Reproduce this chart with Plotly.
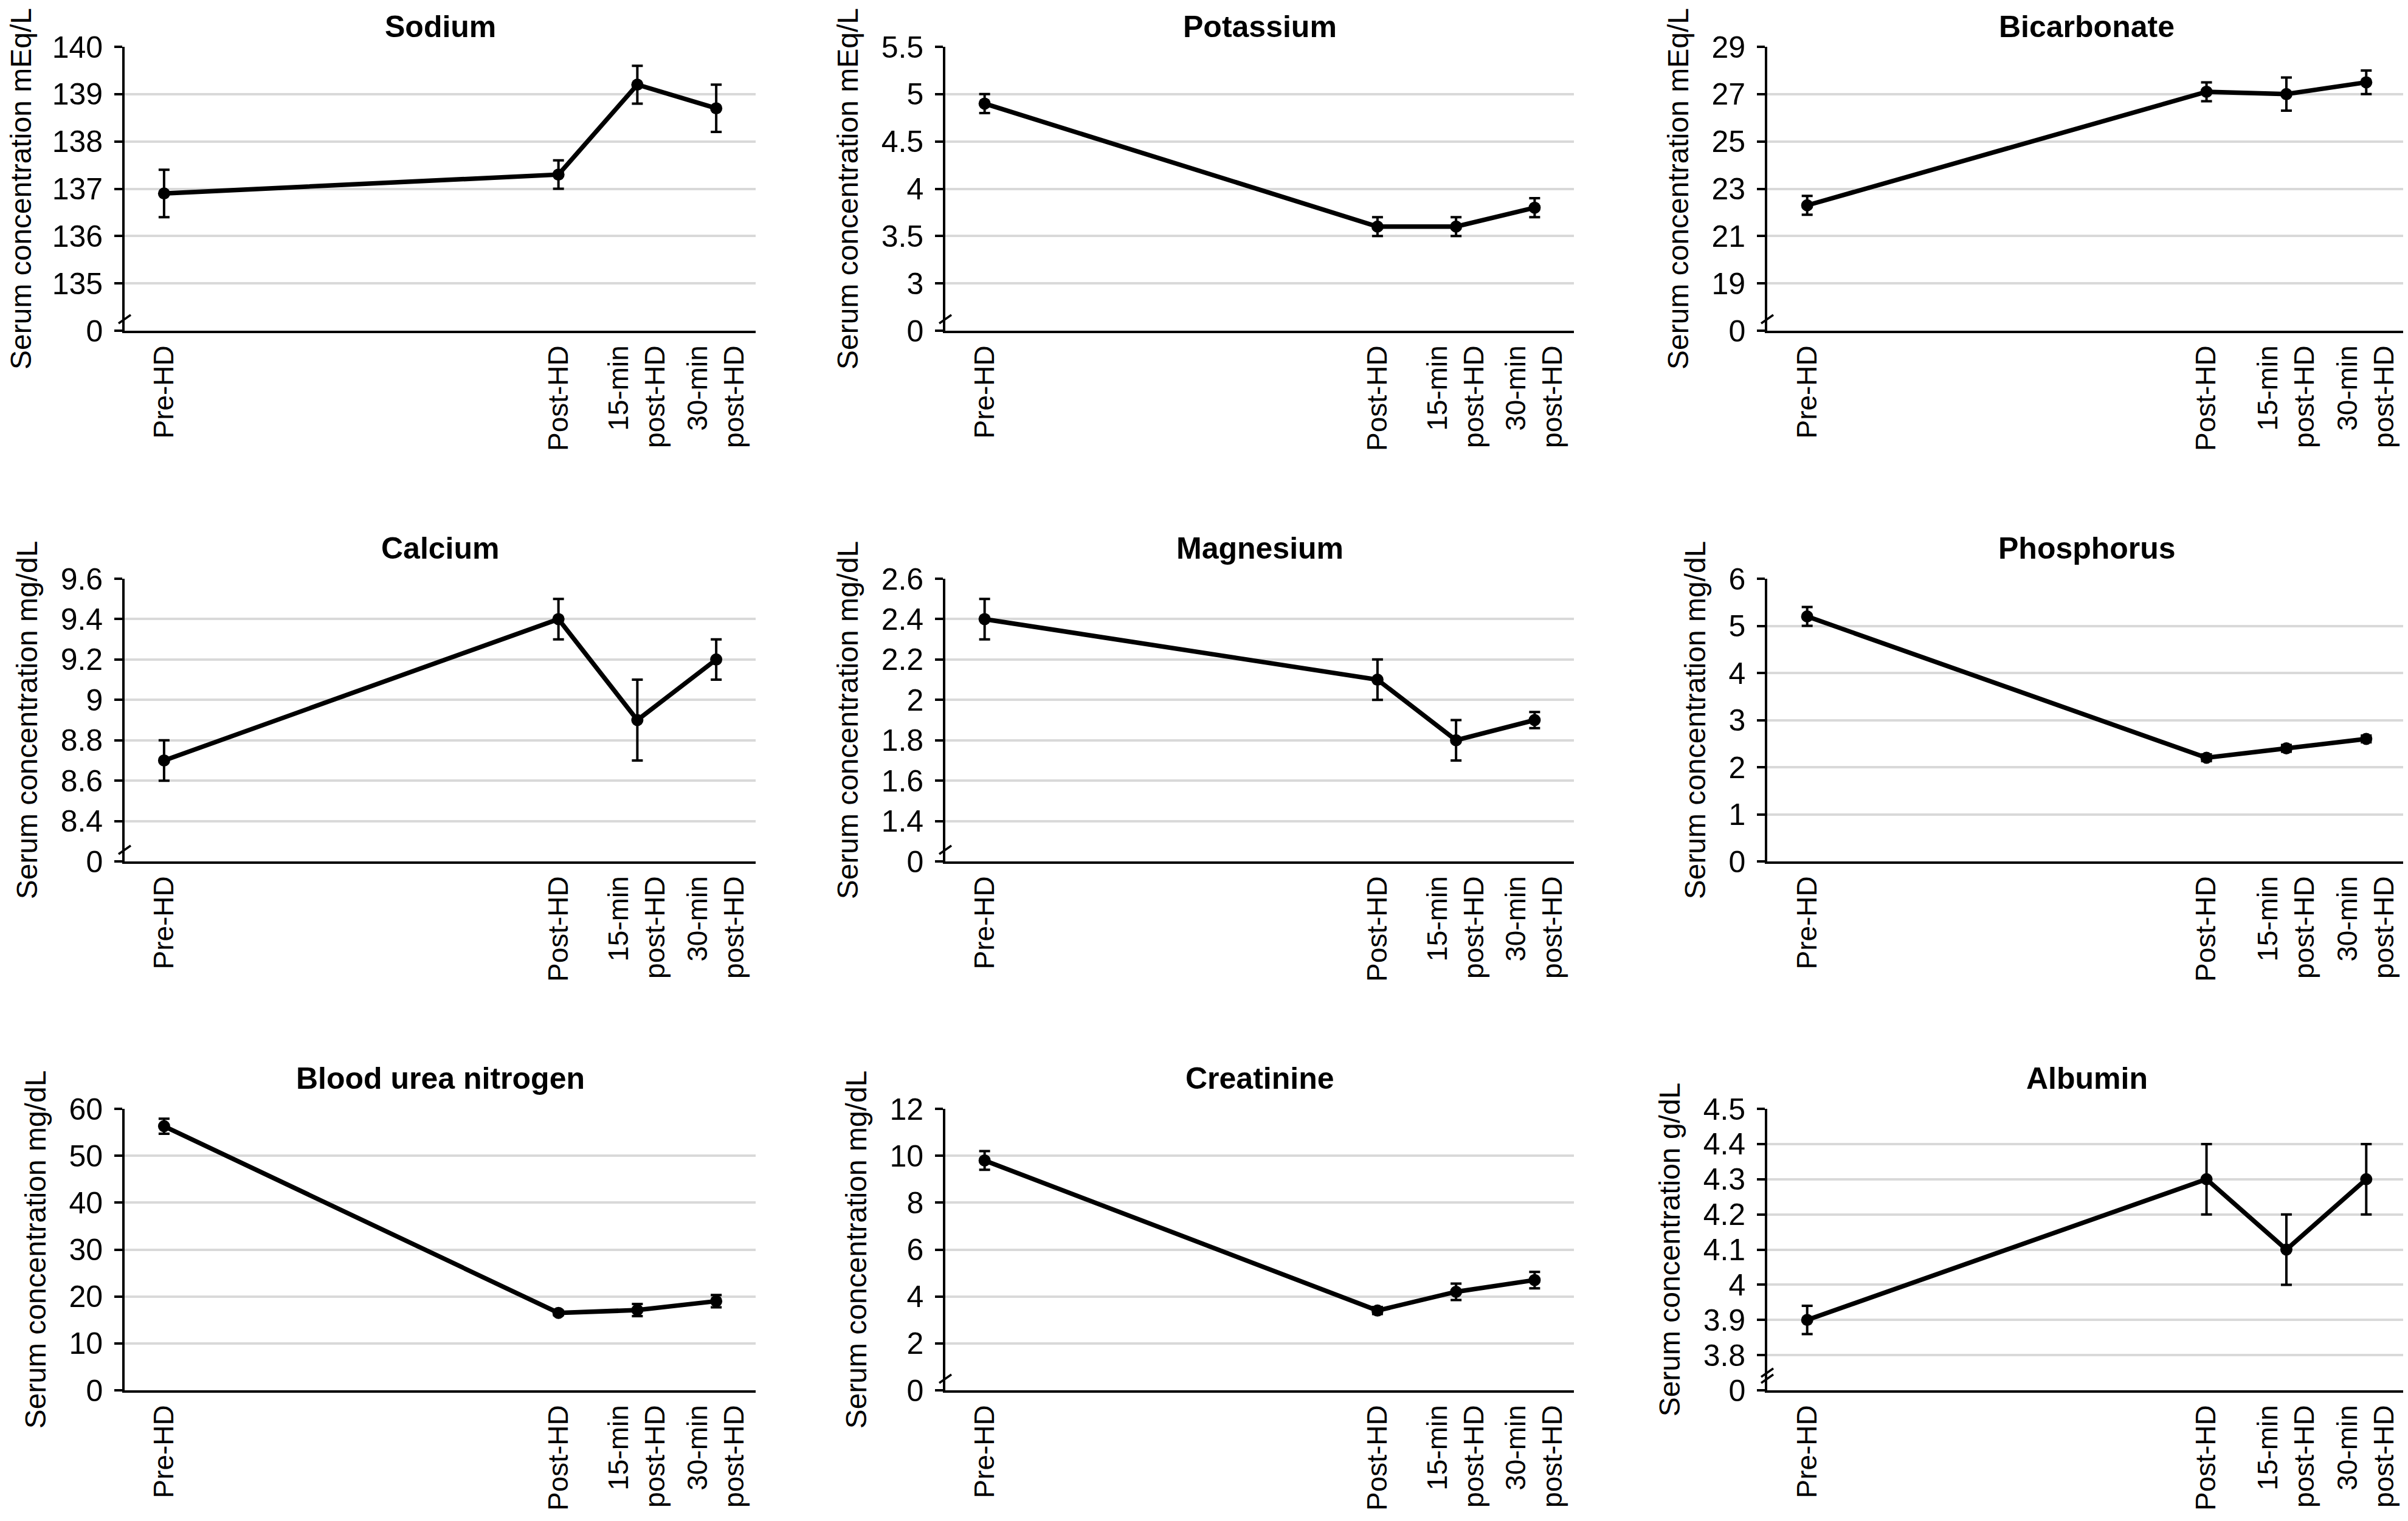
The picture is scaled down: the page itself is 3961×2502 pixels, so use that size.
import plotly.graph_objects as go

# ---------------- data ----------------
time_labels = ["Pre-HD", "Post-HD", "15-min<br>post-HD", "30-min<br>post-HD"]

panel_titles = ["Sodium", "Potassium", "Bicarbonate",
                "Calcium", "Magnesium", "Phosphorus",
                "Blood urea nitrogen", "Creatinine", "Albumin"]
panel_units = ["mEq/L", "mEq/L", "mEq/L",
               "mg/dL", "mg/dL", "mg/dL",
               "mg/dL", "mg/dL", "g/dL"]

sodium_mean = [136.9, 137.3, 139.2, 138.7]
sodium_err = [0.5, 0.3, 0.4, 0.5]
potassium_mean = [4.9, 3.6, 3.6, 3.8]
potassium_err = [0.1, 0.1, 0.1, 0.1]
bicarbonate_mean = [22.3, 27.1, 27.0, 27.5]
bicarbonate_err = [0.4, 0.4, 0.7, 0.5]
calcium_mean = [8.7, 9.4, 8.9, 9.2]
calcium_err = [0.1, 0.1, 0.2, 0.1]
magnesium_mean = [2.4, 2.1, 1.8, 1.9]
magnesium_err = [0.1, 0.1, 0.1, 0.04]
phosphorus_mean = [5.2, 2.2, 2.4, 2.6]
phosphorus_err = [0.2, 0.07, 0.07, 0.07]
bun_mean = [56.3, 16.5, 17.1, 19.0]
bun_err = [1.6, 0.5, 1.3, 1.3]
creatinine_mean = [9.8, 3.4, 4.2, 4.7]
creatinine_err = [0.4, 0.15, 0.35, 0.35]
albumin_mean = [3.9, 4.3, 4.1, 4.3]
albumin_err = [0.04, 0.1, 0.1, 0.1]

sodium_ticks = [135, 136, 137, 138, 139, 140]
potassium_ticks = [3, 3.5, 4, 4.5, 5, 5.5]
bicarbonate_ticks = [19, 21, 23, 25, 27, 29]
calcium_ticks = [8.4, 8.6, 8.8, 9, 9.2, 9.4, 9.6]
magnesium_ticks = [1.4, 1.6, 1.8, 2, 2.2, 2.4, 2.6]
phosphorus_ticks = [1, 2, 3, 4, 5, 6]
bun_ticks = [10, 20, 30, 40, 50, 60]
creatinine_ticks = [2, 4, 6, 8, 10, 12]
albumin_ticks = [3.8, 3.9, 4, 4.1, 4.2, 4.3, 4.4, 4.5]

# number of axis-break slashes drawn on each y axis
break_marks = [1, 1, 1, 1, 1, 0, 0, 1, 2]

means = [sodium_mean, potassium_mean, bicarbonate_mean, calcium_mean, magnesium_mean,
         phosphorus_mean, bun_mean, creatinine_mean, albumin_mean]
errs = [sodium_err, potassium_err, bicarbonate_err, calcium_err, magnesium_err,
        phosphorus_err, bun_err, creatinine_err, albumin_err]
ticks = [sodium_ticks, potassium_ticks, bicarbonate_ticks, calcium_ticks, magnesium_ticks,
         phosphorus_ticks, bun_ticks, creatinine_ticks, albumin_ticks]

# ---------------- layout constants ----------------
W, H = 3961, 2502
x_slots = [0, 5, 6, 7]          # category slots (Excel-style spacing)
col_px = [(197, 1235), (1547, 2581), (2899, 3950)]
row_px = [(69, 536), (944, 1409), (1816, 2279)]
FONT = "Liberation Sans, Arial, Helvetica, sans-serif"

fig = go.Figure()
annotations = []
shapes = []

for i in range(9):
    r, c = divmod(i, 3)
    n = "" if i == 0 else str(i + 1)
    xref, yref = "x" + n, "y" + n
    tv = ticks[i]
    step = tv[1] - tv[0]
    zero_slot = tv[0] - step
    tickvals = [zero_slot] + tv
    ticktext = ["0"] + [f"{v:g}" for v in tv]

    fig.add_trace(go.Scatter(
        x=x_slots, y=means[i], xaxis=xref, yaxis=yref,
        mode="lines+markers",
        line=dict(color="black", width=7.5),
        marker=dict(color="black", size=20),
        error_y=dict(type="data", array=errs[i], visible=True,
                     color="black", thickness=4, width=9),
        showlegend=False, cliponaxis=False,
    ))

    x0, x1 = col_px[c]
    ytop, ybot = row_px[r]
    xdom = [x0 / W, x1 / W]
    ydom = [1 - ybot / H, 1 - ytop / H]

    fig.layout["xaxis" + n] = dict(
        domain=xdom, anchor=yref, range=[-0.5, 7.5], automargin=False,
        tickmode="array", tickvals=x_slots, ticktext=time_labels,
        tickangle=-90, ticks="", showgrid=False, zeroline=False,
        showline=True, linecolor="black", linewidth=3.6,
        tickfont=dict(family=FONT, size=46, color="black"),
        ticklabelstandoff=2, fixedrange=True,
    )
    fig.layout["yaxis" + n] = dict(
        domain=ydom, anchor=xref, range=[zero_slot, tv[-1]], automargin=False,
        tickmode="array", tickvals=tickvals, ticktext=ticktext,
        ticks="outside", ticklen=13, tickwidth=3.5, tickcolor="black",
        showline=True, linecolor="black", linewidth=3.6,
        showgrid=True, gridcolor="#d9d9d9", gridwidth=3.5, zeroline=False,
        tickfont=dict(family=FONT, size=50, color="black"),
        ticklabelstandoff=9,
        title=dict(text="Serum concentration " + panel_units[i],
                   font=dict(family=FONT, size=48, color="black"), standoff=24),
        fixedrange=True,
    )

    title_center = max(ytop - 50, 36)
    annotations.append(dict(
        text="<b>" + panel_titles[i] + "</b>", xref="paper", yref="paper",
        x=(xdom[0] + xdom[1]) / 2, y=1 - title_center / H,
        xanchor="center", yanchor="middle", showarrow=False,
        font=dict(family=FONT, size=50, color="black"),
    ))

    for k in range(break_marks[i]):
        shapes.append(dict(
            type="line", xref=xref + " domain", yref=yref,
            xsizemode="pixel", ysizemode="pixel",
            xanchor=0, yanchor=zero_slot,
            x0=-10, x1=10, y0=12 + 10 * k, y1=26 + 10 * k,
            line=dict(color="black", width=3.5),
        ))

fig.update_layout(
    width=W, height=H, margin=dict(l=0, r=0, t=0, b=0, autoexpand=False),
    paper_bgcolor="white", plot_bgcolor="white",
    annotations=annotations, shapes=shapes,
    font=dict(family=FONT, color="black"),
)

fig.write_html("out.html")
